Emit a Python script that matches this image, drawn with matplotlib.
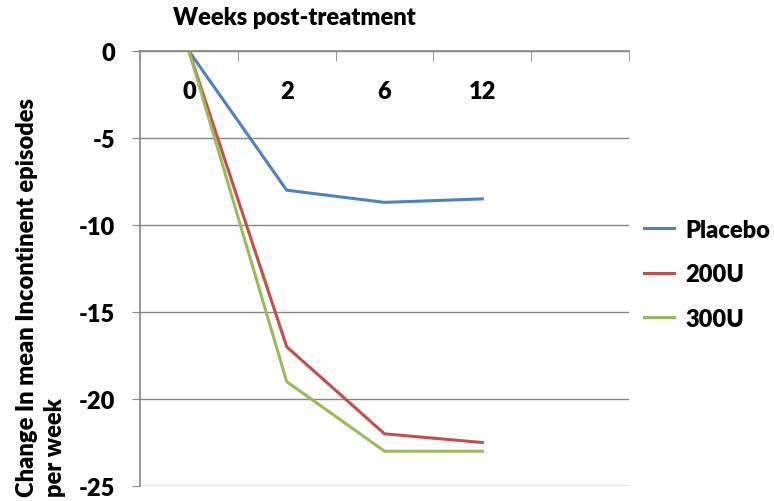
import matplotlib
matplotlib.use("Agg")
import matplotlib.pyplot as plt

plt.rcParams["font.family"] = ["Lato", "DejaVu Sans"]
plt.rcParams["font.weight"] = "heavy"

weeks = ["0", "2", "6", "12"]
placebo = [0, -8.0, -8.7, -8.5]
dose_200u = [0, -17.0, -22.0, -22.5]
dose_300u = [0, -19.0, -23.0, -23.0]
series_names = ["Placebo", "200U", "300U"]
series_colors = ["#4F81BD", "#C0504D", "#9BBB59"]
y_ticks = [0, -5, -10, -15, -20, -25]

fig = plt.figure(figsize=(7.74, 5.02), dpi=100)
ax = fig.add_axes([140 / 774, 1 - 487 / 502, (629 - 140) / 774, (487 - 52) / 502])

x = list(range(len(weeks)))
for vals, name, col in zip([placebo, dose_200u, dose_300u], series_names, series_colors):
    ax.plot(x, vals, color=col, lw=2.2, label=name, solid_joinstyle="miter")

# one empty category slot on the right, like the original
ax.set_xlim(-0.5, len(weeks) + 0.5)
ax.set_ylim(-25, 0)

ax.set_yticks(y_ticks)
ax.set_yticklabels([str(v) for v in y_ticks])
ax.tick_params(axis="y", length=6, color="#868686", pad=12, labelsize=17)
ax.yaxis.grid(True, color="#868686", lw=1)
ax.set_axisbelow(True)

# category axis sits on top at y=0, labels drawn inside the plot
ax.xaxis.tick_top()
ax.set_xticks([i - 0.5 for i in range(len(weeks) + 2)], minor=True)
ax.set_xticks(x)
ax.set_xticklabels(weeks)
ax.tick_params(axis="x", which="major", length=0, pad=-37, labelsize=17)
ax.tick_params(axis="x", which="minor", direction="in", length=7, color="#868686")

for side in ["right", "bottom"]:
    ax.spines[side].set_visible(False)
for side in ["left", "top"]:
    ax.spines[side].set_color("#868686")
    ax.spines[side].set_linewidth(1.2)

fig.text(294 / 774, 1 - 18 / 502, "Weeks post-treatment", ha="center", va="center",
         fontsize=17, fontweight="heavy")
fig.text(41 / 774, 1 - 497 / 502, "Change In mean Incontinent episodes\nper week",
         rotation=90, ha="center", va="bottom", multialignment="left",
         fontsize=17, fontweight="heavy", linespacing=1.3)

ax.legend(loc="center left", bbox_to_anchor=(1.03, 0.487), frameon=False,
          fontsize=17, handlelength=1.3, handletextpad=0.45, labelspacing=0.95,
          borderaxespad=0, borderpad=0)

fig.savefig("out.png", dpi=100)
